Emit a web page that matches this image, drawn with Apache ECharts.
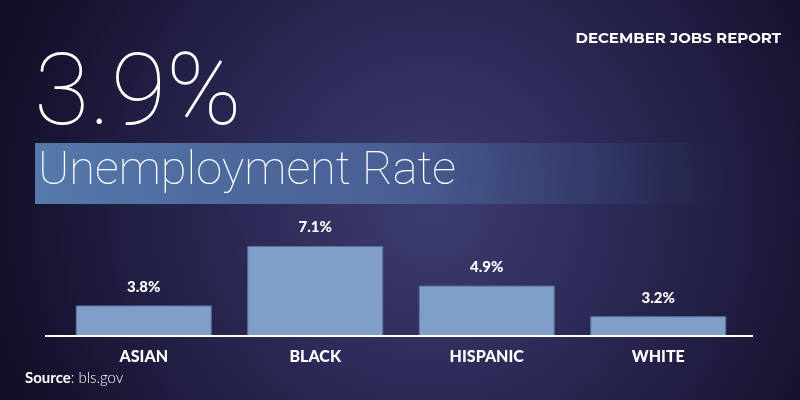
<!DOCTYPE html>
<html>
<head>
<meta charset="utf-8">
<script src="https://cdn.jsdelivr.net/npm/echarts@6/dist/echarts.min.js"></script>
<style>
html,body{margin:0;padding:0;background:#15122e;}
#chart{width:800px;height:400px;}
</style>
</head>
<body>
<div id="chart"></div>
<script>
const categories = ['ASIAN', 'BLACK', 'HISPANIC', 'WHITE'];
const rates = [3.8, 7.1, 4.9, 3.2];
const headline = '3.9%';
const subtitle = 'Unemployment Rate';
const reportTitle = 'DECEMBER JOBS REPORT';
const sourceText = 'bls.gov';

const chart = echarts.init(document.getElementById('chart'), null, {renderer: 'canvas'});
chart.setOption({
  animation: false,
  backgroundColor: '#15122e',
  graphic: [
    {
      type: 'rect', z: -10, silent: true,
      shape: {x: 0, y: 0, width: 800, height: 400},
      style: {
        fill: new echarts.graphic.RadialGradient(0.54, 0.52, 1.15, [
          {offset: 0, color: '#3d3c70'},
          {offset: 0.45, color: '#2a2853'},
          {offset: 1, color: '#110e27'}
        ])
      }
    },
    {
      type: 'rect', z: -5, silent: true,
      shape: {x: 35, y: 143, width: 705, height: 61},
      style: {
        fill: new echarts.graphic.LinearGradient(0, 0, 1, 0, [
          {offset: 0, color: 'rgba(88,125,176,0.97)'},
          {offset: 0.5, color: 'rgba(80,110,165,0.75)'},
          {offset: 0.8, color: 'rgba(60,80,130,0.35)'},
          {offset: 1, color: 'rgba(40,50,90,0)'}
        ])
      }
    },
    {
      type: 'text', left: 34, top: 48, silent: true,
      style: {text: headline, fill: '#ffffff', font: '100 101px Roboto'}
    },
    {
      type: 'text', left: 38, top: 149, silent: true,
      style: {text: subtitle, fill: '#ffffff', font: '100 47px Roboto'}
    },
    {
      type: 'text', right: 19, top: 31, silent: true,
      style: {text: reportTitle, fill: '#ffffff', font: '700 15px Montserrat, Lato', textAlign: 'right'}
    },
    {
      type: 'line', silent: true, z: 10,
      shape: {x1: 45, y1: 336, x2: 753, y2: 336},
      style: {stroke: '#ffffff', lineWidth: 2}
    },
    {
      type: 'text', left: 25, top: 371, silent: true,
      style: {
        text: '{b|Source}{n|: ' + sourceText + '}',
        rich: {
          b: {fill: '#ffffff', font: '700 15px Lato'},
          n: {fill: '#ffffff', font: '300 15px Lato'}
        }
      }
    }
  ],
  grid: {left: 58, right: 56, top: 246, bottom: 64},
  xAxis: {
    type: 'category',
    data: categories,
    axisLine: {show: false},
    axisTick: {show: false},
    axisLabel: {color: '#ffffff', fontFamily: 'Lato', fontWeight: 900, fontSize: 16, margin: 13}
  },
  yAxis: {
    type: 'value', min: 2.1, max: 7.1, show: false,
    splitLine: {show: false}
  },
  series: [{
    type: 'bar',
    data: rates,
    barWidth: 136,
    itemStyle: {color: '#7f9fc8', borderColor: '#5b6f9c', borderWidth: 1},
    label: {
      show: true, position: 'top', distance: 11,
      formatter: p => p.value.toFixed(1) + '%',
      color: '#ffffff', fontFamily: 'Lato', fontWeight: 900, fontSize: 15
    }
  }]
});
</script>
</body>
</html>
